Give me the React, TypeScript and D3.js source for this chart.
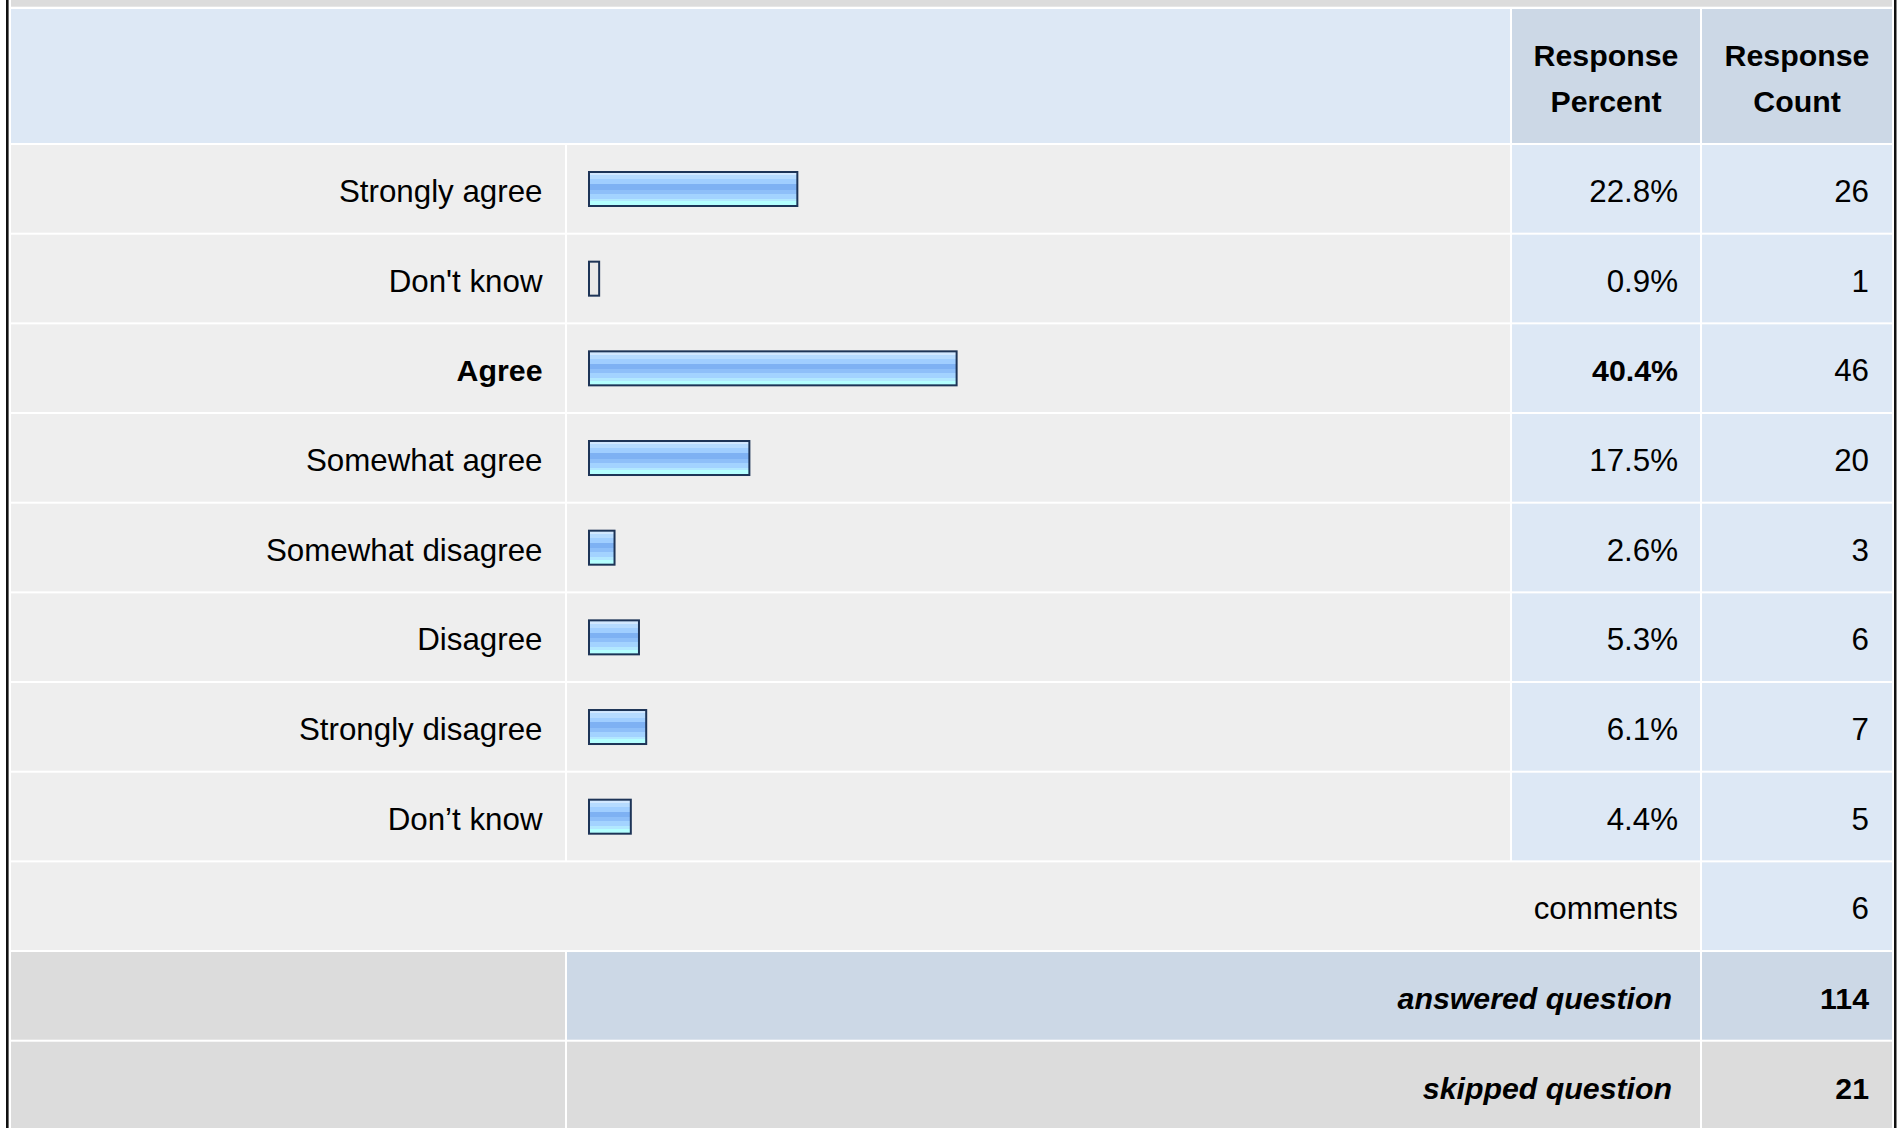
import React from "react";
import * as d3 from "d3";

const categories = [
  "Strongly agree",
  "Don't know",
  "Agree",
  "Somewhat agree",
  "Somewhat disagree",
  "Disagree",
  "Strongly disagree",
  "Don\u2019t know",
];
const percents = [22.8, 0.9, 40.4, 17.5, 2.6, 5.3, 6.1, 4.4];
const counts = [26, 1, 46, 20, 3, 6, 7, 5];
const boldRows = ["Agree"];
const headerPercent = ["Response", "Percent"];
const headerCount = ["Response", "Count"];
const commentsCount = 6;
const answered = 114;
const skipped = 21;

const W = 1903;
const H = 1128;
const FONT = "'Liberation Sans', Arial, Helvetica, sans-serif";

export default function App() {
  const colX = [11, 567, 1512, 1702];
  const colR = [565, 1510, 1700, 1892];
  const headTop = 9;
  const headBottom = 143;
  const rowTop0 = 145;
  const pitch = 89.67;
  const cellH = pitch - 2;
  const fs = 31.3;
  const fsb = 30.3;

  const x = d3.scaleLinear().domain([0, 100]).range([0, 905]);
  const rowY = (i: number) => rowTop0 + i * pitch;

  const stops: [number, string][] = [
    [0, "#d2e8ff"],
    [0.1, "#b6dbff"],
    [0.22, "#a0ceff"],
    [0.36, "#7eb1f3"],
    [0.52, "#8ebff9"],
    [0.64, "#a3d3ff"],
    [0.78, "#b2e8ff"],
    [0.86, "#b4ffff"],
    [1, "#b4ffff"],
  ];

  const n = categories.length;

  return (
    <svg
      width={W}
      height={H}
      style={{ position: "absolute", left: 0, top: 0, background: "#fff" }}
      fontFamily={FONT}
    >
      <defs>
        <linearGradient id="barg" x1="0" y1="0" x2="0" y2="1">
          {stops.map(([o, c], i) => (
            <React.Fragment key={i}>
              {i > 0 && <stop offset={o} stopColor={stops[i - 1][1]} />}
              <stop offset={o} stopColor={c} />
            </React.Fragment>
          ))}
        </linearGradient>
      </defs>
      <rect x={0} y={0} width={W} height={H} fill="#ffffff" />
      {/* top strip of previous row */}
      <rect x={11} y={0} width={1892 - 11} height={6.7} fill="#dcdcdc" />
      {/* header */}
      <rect x={11} y={headTop} width={1510 - 11} height={headBottom - headTop} fill="#dde8f5" />
      <rect x={colX[2]} y={headTop} width={colR[2] - colX[2]} height={headBottom - headTop} fill="#ccd8e6" />
      <rect x={colX[3]} y={headTop} width={colR[3] - colX[3]} height={headBottom - headTop} fill="#ccd8e6" />
      {[headerPercent, headerCount].map((lines, ci) => (
        <text
          key={ci}
          x={(colX[2 + ci] + colR[2 + ci]) / 2}
          textAnchor="middle"
          fontWeight="bold"
          fontSize={fsb}
          fill="#000"
        >
          {lines.map((l, li) => (
            <tspan key={li} x={(colX[2 + ci] + colR[2 + ci]) / 2} y={66 + li * 46}>
              {l}
            </tspan>
          ))}
        </text>
      ))}
      {/* data rows */}
      {categories.map((cat, i) => {
        const y0 = rowY(i);
        const bold = boldRows.includes(cat);
        const bw = 4 + x(percents[i]);
        const base = y0 + 57;
        return (
          <g key={i}>
            <rect x={colX[0]} y={y0} width={colR[0] - colX[0]} height={cellH} fill="#eeeeee" />
            <rect x={colX[1]} y={y0} width={colR[1] - colX[1]} height={cellH} fill="#eeeeee" />
            <rect x={colX[2]} y={y0} width={colR[2] - colX[2]} height={cellH} fill="#dde8f5" />
            <rect x={colX[3]} y={y0} width={colR[3] - colX[3]} height={cellH} fill="#dde8f5" />
            <text x={542.5} y={base} textAnchor="end" fontSize={bold ? fsb : fs} fontWeight={bold ? "bold" : "normal"} fill="#000">
              {cat}
            </text>
            <rect
              x={588 + 1}
              y={y0 + 26 + 1}
              width={bw - 2}
              height={34}
              fill={percents[i] < 1 ? "#e9e9e9" : "url(#barg)"}
              stroke="#1d3457"
              strokeWidth={2}
            />
            <text x={1678} y={base} textAnchor="end" fontSize={bold ? fsb : fs} fontWeight={bold ? "bold" : "normal"} fill="#000">
              {percents[i].toFixed(1)}%
            </text>
            <text x={1869} y={base} textAnchor="end" fontSize={fs} fill="#000">
              {counts[i]}
            </text>
          </g>
        );
      })}
      {/* comments row */}
      <g>
        <rect x={colX[0]} y={rowY(n)} width={colR[2] - colX[0]} height={cellH} fill="#eeeeee" />
        <rect x={colX[3]} y={rowY(n)} width={colR[3] - colX[3]} height={cellH} fill="#dde8f5" />
        <text x={1678} y={rowY(n) + 57} textAnchor="end" fontSize={fs} fill="#000">
          comments
        </text>
        <text x={1869} y={rowY(n) + 57} textAnchor="end" fontSize={fs} fill="#000">
          {commentsCount}
        </text>
      </g>
      {/* answered row */}
      <g>
        <rect x={colX[0]} y={rowY(n + 1)} width={colR[0] - colX[0]} height={cellH} fill="#dcdcdc" />
        <rect x={colX[1]} y={rowY(n + 1)} width={colR[2] - colX[1]} height={cellH} fill="#ccd8e6" />
        <rect x={colX[3]} y={rowY(n + 1)} width={colR[3] - colX[3]} height={cellH} fill="#ccd8e6" />
        <text x={1672} y={rowY(n + 1) + 57} textAnchor="end" fontSize={fsb} fontWeight="bold" fontStyle="italic" fill="#000">
          answered question
        </text>
        <text x={1869} y={rowY(n + 1) + 57} textAnchor="end" fontSize={fsb} fontWeight="bold" fill="#000">
          {answered}
        </text>
      </g>
      {/* skipped row */}
      <g>
        <rect x={colX[0]} y={rowY(n + 2)} width={colR[0] - colX[0]} height={cellH} fill="#dcdcdc" />
        <rect x={colX[1]} y={rowY(n + 2)} width={colR[2] - colX[1]} height={cellH} fill="#dcdcdc" />
        <rect x={colX[3]} y={rowY(n + 2)} width={colR[3] - colX[3]} height={cellH} fill="#dcdcdc" />
        <text x={1672} y={rowY(n + 2) + 57} textAnchor="end" fontSize={fsb} fontWeight="bold" fontStyle="italic" fill="#000">
          skipped question
        </text>
        <text x={1869} y={rowY(n + 2) + 57} textAnchor="end" fontSize={fsb} fontWeight="bold" fill="#000">
          {skipped}
        </text>
      </g>
      {/* outer borders */}
      <rect x={6} y={0} width={2.6} height={H} fill="#111" />
      <rect x={1894} y={0} width={2.5} height={H} fill="#111" />
    </svg>
  );
}
